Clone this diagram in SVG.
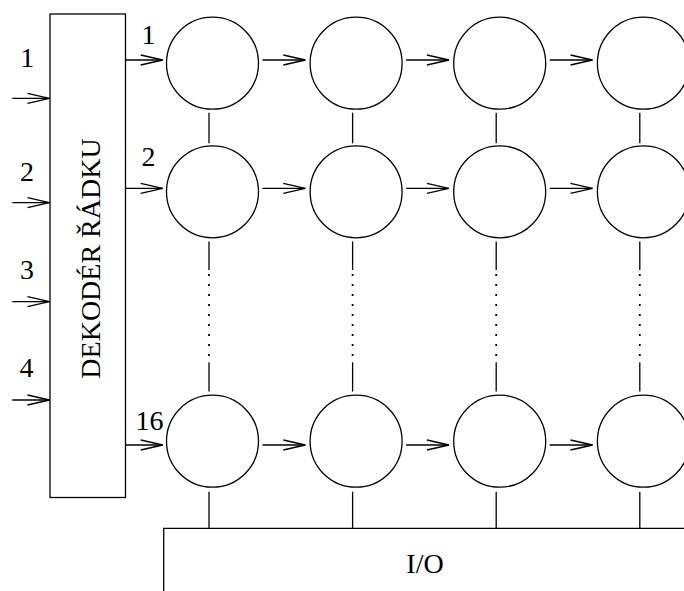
<svg xmlns="http://www.w3.org/2000/svg" width="684" height="591" viewBox="0 0 684 591">
<style>
.s{fill:none;stroke:#000;stroke-width:1.3}
.c{fill:#fff;stroke:#000;stroke-width:1.3}
.t{font-family:"Liberation Serif","Times New Roman",serif;font-size:28px;fill:#000}
.d{fill:none;stroke:#000;stroke-width:1.8;stroke-dasharray:2 8}
</style>
<defs>
<marker id="a" markerUnits="userSpaceOnUse" orient="auto" overflow="visible" markerWidth="1" markerHeight="1" refX="0" refY="0">
<path d="M-22,-5 L0,0 L-22,5" fill="none" stroke="#000" stroke-width="1.3"/>
</marker>
</defs>
<rect width="684" height="591" fill="#fff"/>

<g id="decoder">
<rect class="s" x="50" y="14" width="75.5" height="483.5"/>
<text class="t" transform="translate(100,258.5) rotate(-90)" text-anchor="middle">DEKODÉR ŘÁDKU</text>
</g>

<g id="io">
<path class="s" d="M163.7,591 V528.3 H690"/>
<text class="t" x="425" y="572.7" text-anchor="middle">I/O</text>
</g>

<g id="cells">
<g id="c1_1"><circle class="c" cx="212.5" cy="63.2" r="46"/></g>
<g id="c1_2"><circle class="c" cx="356.1" cy="63.2" r="46"/></g>
<g id="c1_3"><circle class="c" cx="499.7" cy="63.2" r="46"/></g>
<g id="c1_4"><circle class="c" cx="643.4" cy="63.2" r="46"/></g>
<g id="c2_1"><circle class="c" cx="212.5" cy="191.8" r="46"/></g>
<g id="c2_2"><circle class="c" cx="356.1" cy="191.8" r="46"/></g>
<g id="c2_3"><circle class="c" cx="499.7" cy="191.8" r="46"/></g>
<g id="c2_4"><circle class="c" cx="643.4" cy="191.8" r="46"/></g>
<g id="c16_1"><circle class="c" cx="212.5" cy="441.2" r="46"/></g>
<g id="c16_2"><circle class="c" cx="356.1" cy="441.2" r="46"/></g>
<g id="c16_3"><circle class="c" cx="499.7" cy="441.2" r="46"/></g>
<g id="c16_4"><circle class="c" cx="643.4" cy="441.2" r="46"/></g>
</g>

<g id="connectors">
<line class="s" x1="12.3" y1="98.3" x2="49.5" y2="98.3" marker-end="url(#a)"/>
<line class="s" x1="12.3" y1="202.6" x2="49.5" y2="202.6" marker-end="url(#a)"/>
<line class="s" x1="12.3" y1="301.6" x2="49.5" y2="301.6" marker-end="url(#a)"/>
<line class="s" x1="12.3" y1="400" x2="49.5" y2="400" marker-end="url(#a)"/>
<line class="s" x1="125.5" y1="60" x2="162.7" y2="60" marker-end="url(#a)"/>
<line class="s" x1="262.5" y1="60" x2="305.3" y2="60" marker-end="url(#a)"/>
<line class="s" x1="406.1" y1="60" x2="448.9" y2="60" marker-end="url(#a)"/>
<line class="s" x1="549.7" y1="60" x2="592.5" y2="60" marker-end="url(#a)"/>
<line class="s" x1="125.5" y1="188.4" x2="162.7" y2="188.4" marker-end="url(#a)"/>
<line class="s" x1="262.5" y1="188.4" x2="305.3" y2="188.4" marker-end="url(#a)"/>
<line class="s" x1="406.1" y1="188.4" x2="448.9" y2="188.4" marker-end="url(#a)"/>
<line class="s" x1="549.7" y1="188.4" x2="592.5" y2="188.4" marker-end="url(#a)"/>
<line class="s" x1="125.5" y1="445" x2="162.7" y2="445" marker-end="url(#a)"/>
<line class="s" x1="262.5" y1="445" x2="305.3" y2="445" marker-end="url(#a)"/>
<line class="s" x1="406.1" y1="445" x2="448.9" y2="445" marker-end="url(#a)"/>
<line class="s" x1="549.7" y1="445" x2="592.5" y2="445" marker-end="url(#a)"/>
<g id="v1">
<line class="s" x1="209" y1="112.7" x2="209" y2="143.3"/>
<line class="s" x1="209" y1="241.5" x2="209" y2="270"/>
<line class="d" x1="209" y1="274" x2="209" y2="357"/>
<line class="s" x1="209" y1="362.3" x2="209" y2="391.5"/>
<line class="s" x1="209" y1="491.7" x2="209" y2="528.3"/>
</g>
<g id="v2">
<line class="s" x1="352.6" y1="112.7" x2="352.6" y2="143.3"/>
<line class="s" x1="352.6" y1="241.5" x2="352.6" y2="270"/>
<line class="d" x1="352.6" y1="274" x2="352.6" y2="357"/>
<line class="s" x1="352.6" y1="362.3" x2="352.6" y2="391.5"/>
<line class="s" x1="352.6" y1="491.7" x2="352.6" y2="528.3"/>
</g>
<g id="v3">
<line class="s" x1="496.2" y1="112.7" x2="496.2" y2="143.3"/>
<line class="s" x1="496.2" y1="241.5" x2="496.2" y2="270"/>
<line class="d" x1="496.2" y1="274" x2="496.2" y2="357"/>
<line class="s" x1="496.2" y1="362.3" x2="496.2" y2="391.5"/>
<line class="s" x1="496.2" y1="491.7" x2="496.2" y2="528.3"/>
</g>
<g id="v4">
<line class="s" x1="639.8" y1="112.7" x2="639.8" y2="143.3"/>
<line class="s" x1="639.8" y1="241.5" x2="639.8" y2="270"/>
<line class="d" x1="639.8" y1="274" x2="639.8" y2="357"/>
<line class="s" x1="639.8" y1="362.3" x2="639.8" y2="391.5"/>
<line class="s" x1="639.8" y1="491.7" x2="639.8" y2="528.3"/>
</g>
</g>

<g id="labels">
<text class="t" x="27.3" y="66.7" text-anchor="middle">1</text>
<text class="t" x="27" y="181" text-anchor="middle">2</text>
<text class="t" x="27" y="279.3" text-anchor="middle">3</text>
<text class="t" x="26.5" y="376.5" text-anchor="middle">4</text>
<text class="t" x="148.5" y="44" text-anchor="middle">1</text>
<text class="t" x="148.5" y="165.7" text-anchor="middle">2</text>
<text class="t" x="149.5" y="430" text-anchor="middle">16</text>
</g>
</svg>
